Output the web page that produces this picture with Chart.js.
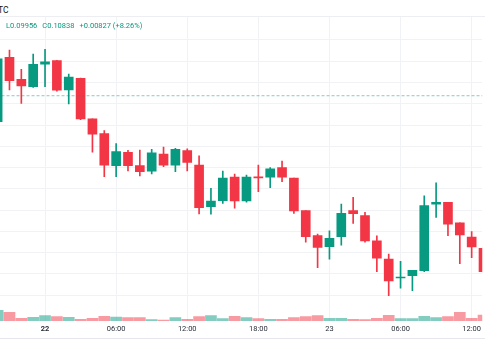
<!DOCTYPE html>
<html><head><meta charset="utf-8">
<script src="https://cdn.jsdelivr.net/npm/chart.js@4/dist/chart.umd.min.js"></script>
<style>
html,body{margin:0;padding:0;background:#fff;}
#wrap{position:relative;width:485px;height:360px;overflow:hidden;background:#fff;font-family:Roboto,sans-serif;}
#hdr{position:absolute;left:0;top:0;width:485px;height:16px;border-bottom:1px solid #eceef2;}
#sym{position:absolute;left:-2px;top:4px;font-size:8.5px;color:#131722;line-height:12px;}
#cv{position:absolute;left:0;top:17px;}
#legend{position:absolute;left:6px;top:21px;font-size:7.5px;line-height:10px;color:#089981;white-space:nowrap;z-index:2;}
#legend span{margin-right:5px;}
#foot{position:absolute;left:0;top:338px;width:485px;height:0;border-top:1px solid #e6e8ee;}
</style></head>
<body>
<div id="wrap">
  <div id="hdr"><div id="sym">TC</div></div>
  <div id="legend"><span id="lL"></span><span id="lC"></span><span id="lChg"></span></div>
  <canvas id="cv" width="485" height="321"></canvas>
  <div id="foot"></div>
</div>
<script>
// hourly candles, hour 0 = 22 00:00
const hours = [-4,-3,-2,-1,0,1,2,3,4,5,6,7,8,9,10,11,12,13,14,15,16,17,18,19,20,21,22,23,24,25,26,27,28,29,30,31,32,33,34,35,36,37];
const openP  = [0.10716,0.11019,0.10915,0.10880,0.10986,0.11003,0.10865,0.10920,0.10729,0.10660,0.10509,0.10572,0.10509,0.10483,0.10564,0.10512,0.10580,0.10512,0.10316,0.10345,0.10455,0.10343,0.10456,0.10455,0.10500,0.10451,0.10298,0.10180,0.10128,0.10175,0.10298,0.10274,0.10156,0.10070,0.09981,0.09992,0.10015,0.10328,0.10337,0.10240,0.10174,0.10121];
const highP  = [0.11015,0.11053,0.10962,0.11034,0.11056,0.11005,0.10940,0.10921,0.10729,0.10674,0.10613,0.10581,0.10583,0.10586,0.10596,0.10591,0.10588,0.10555,0.10403,0.10484,0.10470,0.10465,0.10512,0.10500,0.10531,0.10451,0.10298,0.10187,0.10203,0.10328,0.10360,0.10290,0.10179,0.10094,0.10060,0.10017,0.10367,0.10429,0.10337,0.10240,0.10199,0.10127];
const lowP   = [0.10710,0.10865,0.10802,0.10877,0.10880,0.10860,0.10799,0.10726,0.10573,0.10457,0.10457,0.10484,0.10461,0.10470,0.10505,0.10481,0.10484,0.10282,0.10281,0.10332,0.10309,0.10337,0.10387,0.10406,0.10434,0.10285,0.10150,0.10030,0.10069,0.10135,0.10238,0.10150,0.10011,0.09898,0.09933,0.09921,0.10011,0.10266,0.10180,0.10048,0.10077,0.10005];
const closeP = [0.11011,0.10909,0.10884,0.10986,0.10997,0.10864,0.10926,0.10729,0.10657,0.10512,0.10575,0.10509,0.10481,0.10570,0.10512,0.10586,0.10525,0.10312,0.10343,0.10451,0.10343,0.10455,0.10452,0.10494,0.10455,0.10296,0.10175,0.10125,0.10168,0.10285,0.10283,0.10155,0.10074,0.09967,0.09985,0.10017,0.10321,0.10337,0.10234,0.10183,0.10127,0.10011];
const volume = [107,87,27,37,53,43,37,17,27,47,40,33,33,13,10,33,17,43,53,23,47,33,23,17,17,33,43,53,27,27,17,13,27,57,23,23,47,33,43,87,27,60];
const tickHours = [0,6,12,18,24,30,36];
const tickLabels = ["22","06:00","12:00","18:00","23","06:00","12:00"];
const boldLabels = ["22"];
const priceGrid = [0.099,0.100,0.101,0.102,0.103,0.104,0.105,0.106,0.107,0.108,0.109,0.110,0.111];
const lastClose = 0.10838;
const legendLow = "0.09956", legendClose = "0.10838", legendChange = "+0.00827 (+8.26%)";

document.getElementById('lL').textContent = 'L' + legendLow;
document.getElementById('lC').textContent = 'C' + legendClose;
document.getElementById('lChg').textContent = legendChange;

const UP = '#089981', DN = '#F23645';
const UPV = 'rgba(8,153,129,0.5)', DNV = 'rgba(242,54,69,0.5)';
const isUp = hours.map((h,k) => closeP[k] >= openP[k]);
const cCol = isUp.map(u => u ? UP : DN);
const vCol = isUp.map(u => u ? UPV : DNV);

new Chart(document.getElementById('cv'), {
  type: 'bar',
  data: {
    datasets: [
      { label:'body', data: hours.map((h,k)=>({x:h, y:[openP[k], closeP[k]]})), backgroundColor: cCol, barThickness: 9, minBarLength: 1, grouped:false, yAxisID:'y', order:1 },
      { label:'wick', data: hours.map((h,k)=>({x:h, y:[lowP[k], highP[k]]})), backgroundColor: cCol, barThickness: 1, grouped:false, yAxisID:'y', order:2 },
      { label:'vol', data: hours.map((h,k)=>({x:h, y:volume[k]})), backgroundColor: vCol, barThickness: 11, grouped:false, yAxisID:'v', order:3 },
      { type:'line', label:'last', data:[{x:-10,y:lastClose},{x:50,y:lastClose}], borderColor:'rgba(8,153,129,0.5)', borderWidth:1, borderDash:[3,2], pointRadius:0, yAxisID:'y', order:0 }
    ]
  },
  options: {
    responsive:false, devicePixelRatio:1, animation:false, events:[],
    layout:{padding:0},
    plugins:{legend:{display:false}, tooltip:{enabled:false}},
    scales:{
      x:{ type:'linear', min:-3.8, max:36.89, offset:false,
          grid:{color:'#f0f2f6', drawTicks:false, offset:false}, border:{display:false},
          afterBuildTicks: s => { s.ticks = tickHours.map(v=>({value:v})); },
          ticks:{ autoSkip:false, maxRotation:0, padding:4, color:'#2a2e39',
                  callback:(v,i)=>tickLabels[i],
                  font: c => ({family:'Roboto', size:7.5, weight: boldLabels.includes(tickLabels[c.index]) ? 'bold' : 'normal'}) } },
      y:{ type:'linear', position:'right', min:0.0977888, max:0.1120813,
          grid:{color:'#f0f2f6', drawTicks:false}, border:{display:false},
          afterBuildTicks: s => { s.ticks = priceGrid.map(v=>({value:v})); },
          ticks:{display:false} },
      v:{ type:'linear', display:false, min:0, max:3040 }
    }
  }
});
</script>
</body></html>
